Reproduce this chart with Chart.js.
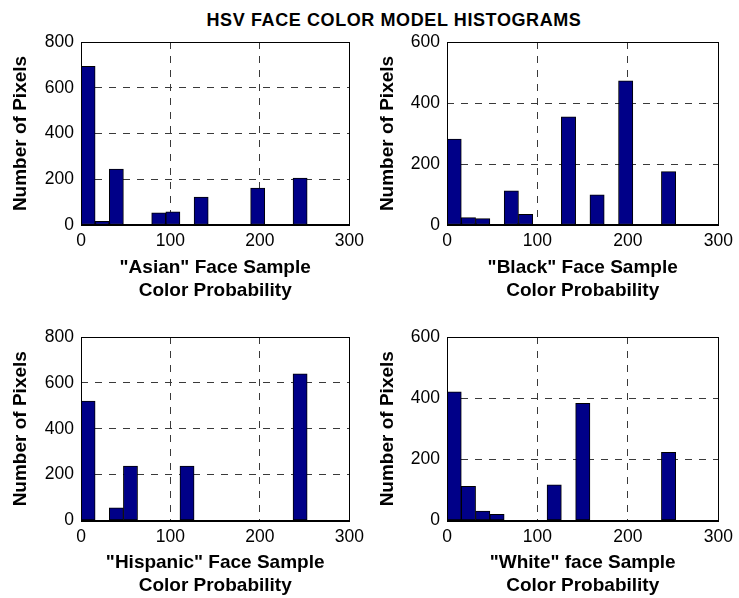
<!DOCTYPE html>
<html>
<head>
<meta charset="utf-8">
<title>HSV Face Color Model Histograms</title>
<script src="https://cdn.jsdelivr.net/npm/chart.js@4.4.0/dist/chart.umd.min.js"></script>
<style>
    body {
        margin: 0;
        width: 739px;
        height: 598px;
        overflow: hidden;
        position: relative;
        background: #ffffff;
        font-family: "Liberation Sans", Arial, sans-serif;
    }
    #title {
        position: absolute;
        left: 194px;
        top: 10px;
        width: 400px;
        text-align: center;
        font-size: 18px;
        line-height: 20px;
        font-weight: bold;
        letter-spacing: 0.6px;
        color: #000;
    }
    .cell { position: absolute; }
</style>
</head>
<body>
<div id="title">HSV FACE COLOR MODEL HISTOGRAMS</div>
<div class="cell" style="left:0;top:0;width:370px;height:305px"><canvas id="asianChart"></canvas></div>
<div class="cell" style="left:370px;top:0;width:369px;height:305px"><canvas id="blackChart"></canvas></div>
<div class="cell" style="left:0;top:300px;width:370px;height:298px"><canvas id="hispanicChart"></canvas></div>
<div class="cell" style="left:370px;top:300px;width:369px;height:298px"><canvas id="whiteChart"></canvas></div>

<script>
// Histogram bin centres (16 bins over the 0-255 hue range)
const binCenters = [7.9, 23.7, 39.5, 55.3, 71.1, 86.9, 102.7, 118.5, 134.3, 150.1, 165.9, 181.7, 197.5, 213.3, 229.1, 244.9];

// Pixel counts per bin
const asianCounts    = [694, 16, 244, 0, 0, 53, 58, 0, 122, 0, 0, 0, 161, 0, 0, 205];
const blackCounts    = [282, 24, 21, 0, 112, 35, 0, 0, 355, 0, 99, 0, 473, 0, 0, 175];
const hispanicCounts = [521, 0, 55, 237, 0, 0, 0, 237, 0, 0, 0, 0, 0, 0, 0, 639];
const whiteCounts    = [421, 112, 31, 20, 0, 0, 0, 117, 0, 383, 0, 0, 0, 0, 0, 223];

// Axis ranges / ticks
const xTicks = [0, 100, 200, 300];
const yMaxLeft = 800;
const yMaxRight = 600;
const yStep = 200;

const yTitle = 'Number of Pixels';
const asianTitle    = ['"Asian" Face Sample', 'Color Probability'];
const blackTitle    = ['"Black" Face Sample', 'Color Probability'];
const hispanicTitle = ['"Hispanic" Face Sample', 'Color Probability'];
const whiteTitle    = ['"White" face Sample', 'Color Probability'];

const FONT = '"Liberation Sans", Arial, sans-serif';
const BAR_COLOR = '#000088';
const GRID_COLOR = '#3a3a3a';

// Solid black box around the plot area (MATLAB "box on")
const boxPlugin = {
    id: 'plotBox',
    afterDatasetsDraw(chart) {
        const { ctx, chartArea: a } = chart;
        const l = Math.round(a.left), t = Math.round(a.top);
        const r = Math.round(a.right), b = Math.round(a.bottom);
        ctx.save();
        ctx.strokeStyle = '#000';
        ctx.lineWidth = 1;
        ctx.strokeRect(l + 0.5, t + 0.5, r - l, b - t);
        ctx.fillStyle = '#000';
        ctx.fillRect(l, b - 1, r - l + 1, 2);
        ctx.restore();
    }
};

function innerGrid(c) {
    const v = c.tick ? c.tick.value : null;
    return (v > c.scale.min && v < c.scale.max) ? GRID_COLOR : 'rgba(0,0,0,0)';
}

/**
 * Build one histogram panel
 */
function createHistogram(canvasId, counts, yMax, xTitleLines, layout) {
    const canvas = document.getElementById(canvasId);
    return new Chart(canvas.getContext('2d'), {
        type: 'bar',
        data: {
            datasets: [{
                data: binCenters.map((x, i) => ({ x: x, y: counts[i] })),
                backgroundColor: BAR_COLOR,
                borderColor: '#000000',
                borderWidth: 1,
                borderSkipped: false,
                barPercentage: 1.0,
                categoryPercentage: 1.0
            }]
        },
        options: {
            responsive: true,
            maintainAspectRatio: false,
            animation: false,
            layout: {
                padding: { left: 0, right: layout.padRight, top: layout.padTop, bottom: 0 }
            },
            plugins: {
                legend: { display: false },
                tooltip: { enabled: false }
            },
            scales: {
                x: {
                    type: 'linear',
                    min: xTicks[0],
                    max: xTicks[xTicks.length - 1],
                    offset: false,
                    afterBuildTicks: (scale) => { scale.ticks = xTicks.map(v => ({ value: v })); },
                    afterFit: (scale) => { scale.height = layout.xHeight; },
                    ticks: {
                        color: '#000',
                        padding: 6,
                        maxRotation: 0,
                        font: { family: FONT, size: 17.5, lineHeight: 1.2 }
                    },
                    grid: {
                        offset: false,
                        drawTicks: false,
                        color: innerGrid,
                        lineWidth: 1
                    },
                    border: { display: false, dash: [7, 7] },
                    title: {
                        display: true,
                        text: xTitleLines,
                        color: '#000',
                        padding: { top: 0, bottom: layout.xTitlePad },
                        font: { family: FONT, size: 19, weight: 'bold', lineHeight: 1.25 }
                    }
                },
                y: {
                    min: 0,
                    max: yMax,
                    afterFit: (scale) => { scale.width = layout.yWidth; },
                    ticks: {
                        stepSize: yStep,
                        color: '#000',
                        padding: 7,
                        font: { family: FONT, size: 17.5, lineHeight: 1.2 }
                    },
                    grid: {
                        drawTicks: false,
                        color: innerGrid,
                        lineWidth: 1
                    },
                    border: { display: false, dash: [7, 7] },
                    title: {
                        display: true,
                        text: yTitle,
                        color: '#000',
                        padding: { top: layout.yTitlePad, bottom: 0 },
                        font: { family: FONT, size: 19, weight: 'bold', lineHeight: 1.25 }
                    }
                }
            }
        },
        plugins: [boxPlugin]
    });
}

createHistogram('asianChart', asianCounts, yMaxLeft, asianTitle,
    { padTop: 42, padRight: 16, yWidth: 81, xHeight: 80, xTitlePad: 2, yTitlePad: 9 });
createHistogram('blackChart', blackCounts, yMaxRight, blackTitle,
    { padTop: 42, padRight: 19, yWidth: 77, xHeight: 80, xTitlePad: 2, yTitlePad: 6 });
createHistogram('hispanicChart', hispanicCounts, yMaxLeft, hispanicTitle,
    { padTop: 37, padRight: 16, yWidth: 81, xHeight: 77.5, xTitlePad: 0, yTitlePad: 9 });
createHistogram('whiteChart', whiteCounts, yMaxRight, whiteTitle,
    { padTop: 37, padRight: 19, yWidth: 77, xHeight: 77.5, xTitlePad: 0, yTitlePad: 6 });
</script>
</body>
</html>
